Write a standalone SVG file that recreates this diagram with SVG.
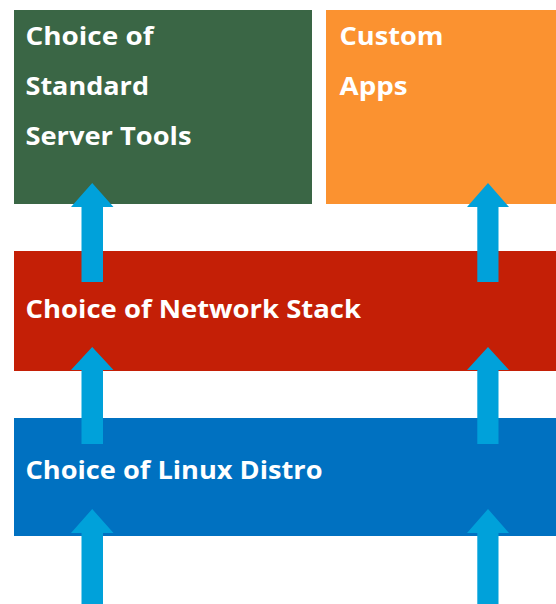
<svg xmlns="http://www.w3.org/2000/svg" width="556" height="604" viewBox="0 0 556 604">
<style>
.lbl{font-family:"Open Sans","Noto Sans","DejaVu Sans",sans-serif;font-weight:700;font-size:25px;fill:#ffffff}
.arr{fill:#00A1DA}
</style>
<rect x="0" y="0" width="556" height="604" fill="#ffffff"/>
<g id="server-tools">
<rect x="14" y="10" width="298" height="194" fill="#3A6645"/>
<text class="lbl" x="25.5" y="45" textLength="128" lengthAdjust="spacingAndGlyphs">Choice of</text>
<text class="lbl" x="25.5" y="95" textLength="123.5" lengthAdjust="spacingAndGlyphs">Standard</text>
<text class="lbl" x="25.5" y="145" textLength="166" lengthAdjust="spacingAndGlyphs">Server Tools</text>
</g>
<g id="custom-apps">
<rect x="326" y="10" width="230" height="194" fill="#FB9230"/>
<text class="lbl" x="339.5" y="45" textLength="104" lengthAdjust="spacingAndGlyphs">Custom</text>
<text class="lbl" x="339.5" y="95" textLength="68" lengthAdjust="spacingAndGlyphs">Apps</text>
</g>
<g id="network-stack">
<rect x="14" y="251" width="542" height="120" fill="#C41F06"/>
<text class="lbl" x="25.5" y="318" textLength="335.5" lengthAdjust="spacingAndGlyphs">Choice of Network Stack</text>
</g>
<g id="linux-distro">
<rect x="14" y="418" width="542" height="118" fill="#0071C1"/>
<text class="lbl" x="25.5" y="479" textLength="297" lengthAdjust="spacingAndGlyphs">Choice of Linux Distro</text>
</g>
<g id="connectors">
<polygon class="arr" points="92.2,183 113.5,207 103,207 103,282 81.5,282 81.5,207 71,207"/>
<polygon class="arr" points="488,183 509,207 498.5,207 498.5,282 477.3,282 477.3,207 467,207"/>
<polygon class="arr" points="92.2,347 113.5,370 103,370 103,444 81.5,444 81.5,370 71,370"/>
<polygon class="arr" points="488,347 509,370 498.5,370 498.5,444 477.3,444 477.3,370 467,370"/>
<polygon class="arr" points="92.2,509 113.5,533 103,533 103,604 81.5,604 81.5,533 71,533"/>
<polygon class="arr" points="488,509 509,533 498.5,533 498.5,604 477.3,604 477.3,533 467,533"/>
</g>
</svg>
